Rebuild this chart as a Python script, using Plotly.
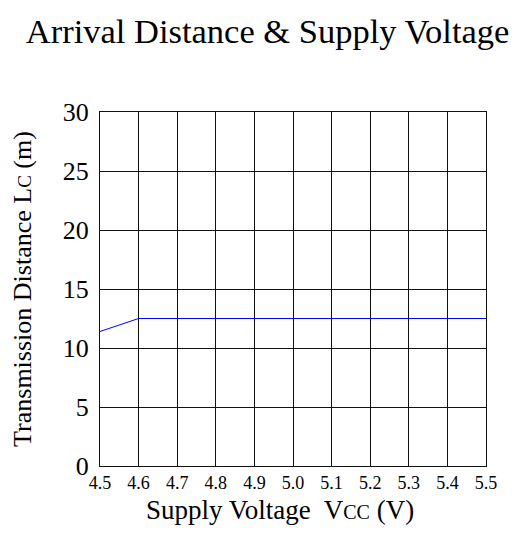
import plotly.graph_objects as go

voltage = [4.5, 4.6, 4.7, 4.8, 4.9, 5.0, 5.1, 5.2, 5.3, 5.4, 5.5]
distance = [11.4, 12.5, 12.5, 12.5, 12.5, 12.5, 12.5, 12.5, 12.5, 12.5, 12.5]
x_ticks = [4.5, 4.6, 4.7, 4.8, 4.9, 5.0, 5.1, 5.2, 5.3, 5.4, 5.5]
x_tick_labels = ["4.5", "4.6", "4.7", "4.8", "4.9", "5.0", "5.1", "5.2", "5.3", "5.4", "5.5"]
y_ticks = [0, 5, 10, 15, 20, 25, 30]

font = "Liberation Serif, Times New Roman, serif"

fig = go.Figure()
fig.add_trace(go.Scatter(x=voltage, y=distance, mode="lines",
                         line=dict(color="#0000ff", width=1), showlegend=False))

fig.update_layout(
    width=511, height=531,
    margin=dict(l=92, r=33, t=104, b=73, autoexpand=False),
    paper_bgcolor="white", plot_bgcolor="white",
    font=dict(family=font, color="black"),
    title=dict(text="Arrival Distance &amp; Supply Voltage", x=0.508, xanchor="center",
               y=0.957, yanchor="middle", font=dict(size=34.5, family=font, color="black")),
    xaxis=dict(range=[4.5, 5.5], tickvals=x_ticks, ticktext=x_tick_labels,
               showgrid=True, gridcolor="#111", gridwidth=1,
               showline=True, linecolor="#111", linewidth=1, mirror=True,
               ticks="", tickfont=dict(size=18, family=font),
               zeroline=False, automargin=False),
    yaxis=dict(range=[0, 30], tickvals=y_ticks,
               showgrid=True, gridcolor="#111", gridwidth=1,
               showline=True, linecolor="#111", linewidth=1, mirror=True,
               ticks="", tickfont=dict(size=26, family=font), ticklabelstandoff=5,
               title=dict(text="Transmission Distance L<span style='font-size:19px'>C</span> (m)",
                          font=dict(size=26, family=font), standoff=27),
               zeroline=False, automargin=False),
    annotations=[dict(text="Supply Voltage  V<span style='font-size:20px'>CC</span> (V)",
                      xref="paper", yref="paper", x=0.466, y=-0.124,
                      xanchor="center", yanchor="middle", showarrow=False,
                      font=dict(size=27, family=font, color="black"))],
)

fig.write_html("out.html")
